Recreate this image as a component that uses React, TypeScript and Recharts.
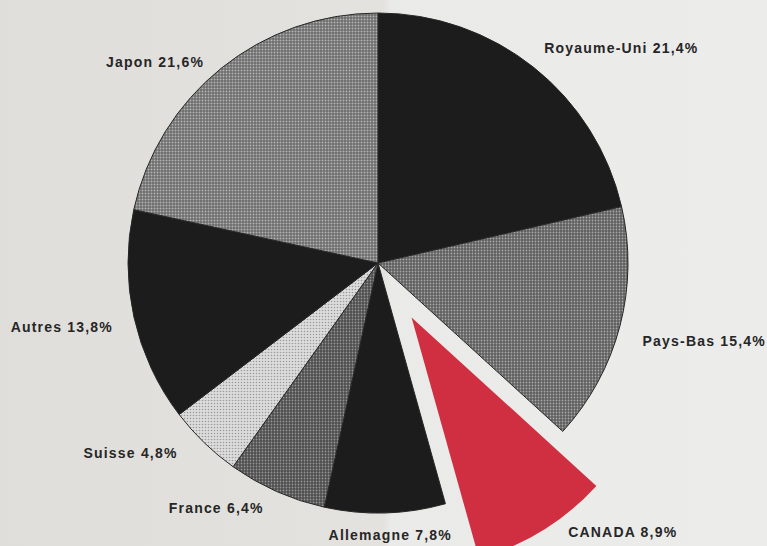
import React from "react";
import { PieChart, Pie, Cell } from "recharts";

const countries = ["Royaume-Uni", "Pays-Bas", "CANADA", "Allemagne", "France", "Suisse", "Autres", "Japon"];
const shares = [21.4, 15.4, 8.9, 7.8, 6.4, 4.8, 13.8, 21.6];
const labelTexts = ["21,4%", "15,4%", "8,9%", "7,8%", "6,4%", "4,8%", "13,8%", "21,6%"];
const highlighted = "CANADA";

const data = countries.map((name, i) => ({ name, value: shares[i], pct: labelTexts[i] }));

const FILLS: Record<string, string> = {
  "Royaume-Uni": "#1d1c1c",
  "Pays-Bas": "url(#patMid)",
  CANADA: "#cf2f40",
  Allemagne: "#1d1c1c",
  France: "url(#patDark)",
  Suisse: "url(#patLight)",
  Autres: "#1d1c1c",
  Japon: "url(#patMidLight)",
};

const LABEL_NUDGE: Record<string, [number, number]> = {
  "Royaume-Uni": [38, 0],
  "Pays-Bas": [7, 8],
  CANADA: [38, -20],
  Allemagne: [3, -3],
  France: [-28, -6],
  Suisse: [-18, -8],
  Autres: [6, 4],
  Japon: [-16, 13],
};

const CX = 378;
const CY = 263;
const R = 250;
const EXPLODE = 64;
const RAD = Math.PI / 180;

// compute the highlighted slice's mid angle from the data
const total = shares.reduce((a, b) => a + b, 0);
const hIdx = countries.indexOf(highlighted);
const before = shares.slice(0, hIdx).reduce((a, b) => a + b, 0);
const midFrac = (before + shares[hIdx] / 2) / total;
const midClock = midFrac * 360; // degrees clockwise from top
const ECX = CX + EXPLODE * Math.sin(midClock * RAD);
const ECY = CY - EXPLODE * Math.cos(midClock * RAD);

const makeLabel = (show: (n: string) => boolean) => (props: any) => {
  const { cx, cy, midAngle, payload } = props;
  const name = payload?.name ?? props.name;
  if (!show(name)) return null;
  const nudge = LABEL_NUDGE[name] || [0, 0];
  const x = cx + 330 * Math.cos(midAngle * RAD) + nudge[0];
  const y = cy - 275 * Math.sin(midAngle * RAD) + nudge[1];
  return (
    <text
      x={x}
      y={y}
      textAnchor="middle"
      dominantBaseline="central"
      fill="#262626"
      fontFamily="'Liberation Sans', Arial, sans-serif"
      fontWeight="bold"
      fontSize={14}
      letterSpacing={1.2}
    >
      {`${name} ${payload?.pct ?? ""}`}
    </text>
  );
};

export default function App() {
  return (
    <div
      style={{
        position: "fixed",
        left: 0,
        top: 0,
        width: 767,
        height: 546,
        background: "linear-gradient(to right, #e0deda 0%, #e4e2de 50%, #eaeae8 51%, #ececeb 100%)",
        overflow: "hidden",
      }}
    >
      <PieChart width={767} height={546} margin={{ top: 0, right: 0, bottom: 0, left: 0 }}>
        <defs>
          <pattern id="patMid" width="3" height="3" patternUnits="userSpaceOnUse">
            <rect width="3" height="3" fill="#5f5f5f" />
            <circle cx="1.5" cy="1.5" r="0.9" fill="#a8a8a8" />
          </pattern>
          <pattern id="patMidLight" width="3" height="3" patternUnits="userSpaceOnUse">
            <rect width="3" height="3" fill="#6c6c6c" />
            <circle cx="1.5" cy="1.5" r="1" fill="#b4b4b4" />
          </pattern>
          <pattern id="patDark" width="3" height="3" patternUnits="userSpaceOnUse">
            <rect width="3" height="3" fill="#4e4e4e" />
            <circle cx="1.5" cy="1.5" r="0.9" fill="#959595" />
          </pattern>
          <pattern id="patLight" width="3" height="3" patternUnits="userSpaceOnUse">
            <rect width="3" height="3" fill="#dcdcdc" />
            <circle cx="1.5" cy="1.5" r="0.8" fill="#9a9a9a" />
          </pattern>
        </defs>
        <Pie
          data={data}
          dataKey="value"
          nameKey="name"
          cx={CX}
          cy={CY}
          outerRadius={R}
          startAngle={90}
          endAngle={-270}
          isAnimationActive={false}
          labelLine={false}
          label={makeLabel((n) => n !== highlighted)}
        >
          {data.map((d) => (
            <Cell
              key={d.name}
              fill={d.name === highlighted ? "none" : FILLS[d.name]}
              stroke={d.name === highlighted ? "none" : "#262626"}
              strokeWidth={1}
            />
          ))}
        </Pie>
        <Pie
          data={data}
          dataKey="value"
          nameKey="name"
          cx={ECX}
          cy={ECY}
          outerRadius={R}
          startAngle={90}
          endAngle={-270}
          isAnimationActive={false}
          labelLine={false}
          label={makeLabel((n) => n === highlighted)}
        >
          {data.map((d) => (
            <Cell
              key={d.name}
              fill={d.name === highlighted ? FILLS[d.name] : "none"}
              stroke="none"
            />
          ))}
        </Pie>
      </PieChart>
    </div>
  );
}
